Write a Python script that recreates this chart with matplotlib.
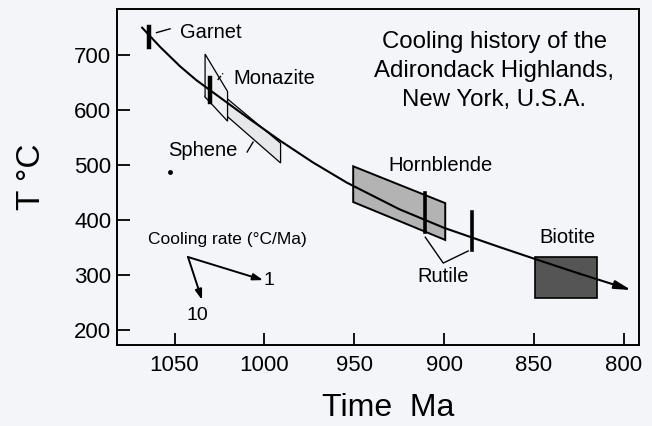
import numpy as np
import matplotlib.pyplot as plt
from matplotlib.patches import Polygon

plt.rcParams['font.family'] = ['Liberation Sans', 'DejaVu Sans']

# Cooling curve (Time Ma, T degC)
curve_time = [1068, 1058, 1047, 1038, 1028, 1010, 991, 973, 954, 925, 900, 885, 870, 850, 825, 796]
curve_temp = [750, 715, 680, 655, 631, 588, 544, 505, 468, 420, 386, 369, 352, 330, 303, 273]

# Mineral age/temperature windows (polygon vertices)
monazite_time = [1033, 1020.5, 1020.5, 1033]
monazite_temp = [702, 634, 580, 624]
sphene_time = [1031, 991, 991, 1033]
sphene_temp = [649, 540, 504, 624]
hornblende_time = [950.6, 899.4, 899.4, 950.6]
hornblende_temp = [498, 431, 364, 433]
biotite_time = [849.3, 814.7, 814.7, 849.3]
biotite_temp = [333, 333, 258, 258]

# Single-age bars: (time, T low, T high)
garnet_bar = (1064, 715, 751)
monazite_bar = (1030, 615, 658)
rutile_bars = [(910.5, 378, 449), (884.3, 346, 415)]

x_ticks = [1050, 1000, 950, 900, 850, 800]
y_ticks = [200, 300, 400, 500, 600, 700]

fig = plt.figure(figsize=(6.52, 4.26), dpi=100)
fig.patch.set_facecolor('#f3f5f9')
ax = fig.add_axes([117/652, 81/426, 522/652, 336/426])
ax.set_facecolor('#f3f5f9')

ax.set_xlim(1082, 791.6)
ax.set_ylim(173, 784)
ax.set_xticks(x_ticks)
ax.set_yticks(y_ticks)
ax.tick_params(direction='in', length=9, width=1.3, labelsize=16)
ax.tick_params(axis='x', pad=7)
ax.tick_params(axis='y', pad=4)
for s in ax.spines.values():
    s.set_linewidth(1.4)

ax.set_xlabel('Time  Ma', fontsize=23)
ax.xaxis.set_label_coords(0.519, -0.143)
ax.set_ylabel('T °C', fontsize=24)
ax.yaxis.set_label_coords(-0.134, 0.5)

# boxes
ax.add_patch(Polygon(list(zip(sphene_time, sphene_temp)), closed=True,
                     facecolor='#e6e8ea', edgecolor='black', lw=0.9))
ax.add_patch(Polygon(list(zip(monazite_time, monazite_temp)), closed=True,
                     facecolor='#eef0f3', edgecolor='black', lw=0.9))
ax.add_patch(Polygon(list(zip(hornblende_time, hornblende_temp)), closed=True,
                     facecolor='#b3b3b3', edgecolor='black', lw=1.4))
ax.add_patch(Polygon(list(zip(biotite_time, biotite_temp)), closed=True,
                     facecolor='#555555', edgecolor='black', lw=1.2, zorder=3))

# cooling curve with arrow
ax.plot(curve_time[:-1], curve_temp[:-1], color='black', lw=1.5, zorder=4)
ax.annotate('', xy=(curve_time[-1], curve_temp[-1]),
            xytext=(curve_time[-2], curve_temp[-2]),
            arrowprops=dict(arrowstyle='-|>,head_length=1.0,head_width=0.25',
                            color='black', lw=1.5, shrinkA=0, shrinkB=0),
            zorder=4)

# bars
for t, lo, hi in [garnet_bar, monazite_bar]:
    ax.plot([t, t], [lo, hi], color='black', lw=3.2, zorder=5)
for t, lo, hi in rutile_bars:
    ax.plot([t, t], [lo, hi], color='black', lw=2.6, zorder=5)

# leader lines
ax.plot([1060, 1052.5], [741, 748], color='black', lw=1)
ax.plot([1026, 1023], [655, 667], color='black', lw=1, ls='--')
ax.plot([1009.6, 1006.3], [524, 542], color='black', lw=1)
ax.plot([910.5, 900.5, 886.6], [369, 322, 344], color='black', lw=1)

# labels
ax.text(1047, 742, 'Garnet', fontsize=14.5, va='center', ha='left')
ax.text(1017.4, 658, 'Monazite', fontsize=14.5, va='center', ha='left')
ax.text(1053.6, 527, 'Sphene', fontsize=14.5, va='center', ha='left')
ax.text(902, 500, 'Hornblende', fontsize=14.5, va='center', ha='center')
ax.text(900.5, 297, 'Rutile', fontsize=14.5, va='center', ha='center')
ax.text(831.4, 368, 'Biotite', fontsize=14.5, va='center', ha='center')
ax.text(872, 671, 'Cooling history of the\nAdirondack Highlands,\nNew York, U.S.A.',
        fontsize=17.3, va='center', ha='center', linespacing=1.42)

ax.plot([1052.5], [488], 'o', color='black', ms=2.5)

# cooling-rate key
ax.text(1064.7, 364, 'Cooling rate (°C/Ma)', fontsize=12.5, va='center', ha='left')
ax.annotate('', xy=(1000.7, 291), xytext=(1042.5, 333),
            arrowprops=dict(arrowstyle='-|>,head_length=0.6,head_width=0.2',
                            color='black', lw=1.4, shrinkA=0, shrinkB=0))
ax.annotate('', xy=(1034.7, 255), xytext=(1042.5, 333),
            arrowprops=dict(arrowstyle='-|>,head_length=0.6,head_width=0.2',
                            color='black', lw=1.4, shrinkA=0, shrinkB=0))
ax.text(997.4, 291, '1', fontsize=14, va='center', ha='center')
ax.text(1037.5, 226, '10', fontsize=14, va='center', ha='center')

fig.savefig('out.png', dpi=100, facecolor=fig.get_facecolor())
